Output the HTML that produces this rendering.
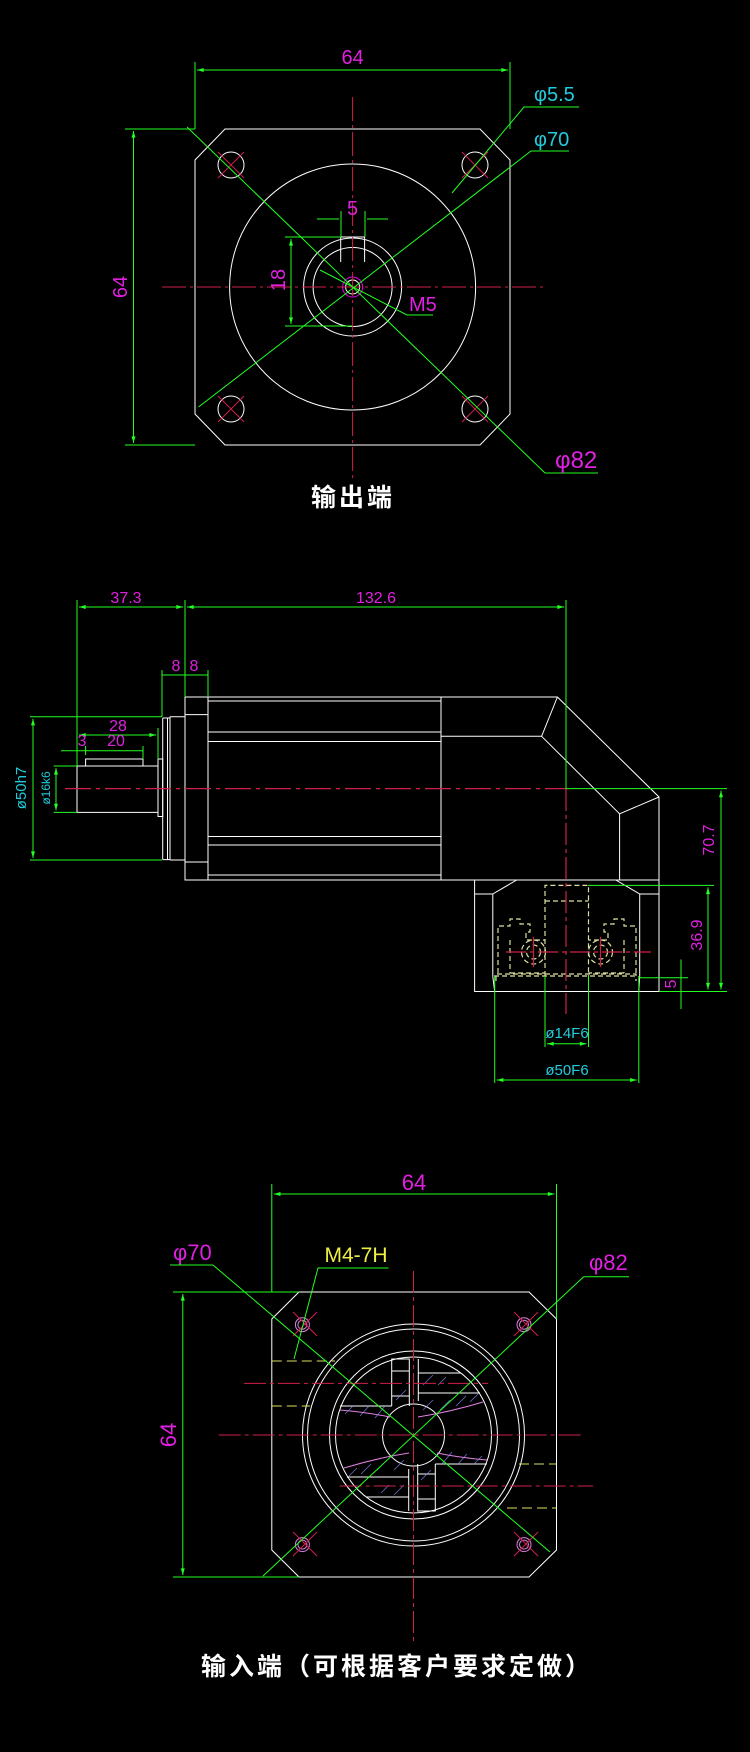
<!DOCTYPE html>
<html><head><meta charset="utf-8"><style>
html,body{margin:0;padding:0;background:#000;}
svg{display:block;}
text{font-family:"Liberation Sans Narrow","Liberation Sans",sans-serif;}
.cj{font-family:"Liberation Sans","Noto Sans CJK SC",sans-serif;font-weight:bold;fill:#fff;}
</style></head><body>
<svg width="750" height="1752" viewBox="0 0 750 1752" xmlns="http://www.w3.org/2000/svg">
<rect width="750" height="1752" fill="#000"/>
<defs>
<marker id="a" viewBox="0 0 10 6" refX="10" refY="3" markerWidth="8" markerHeight="4" orient="auto-start-reverse"><path d="M0,0L10,3L0,6z" fill="#2f2"/></marker>
</defs>

<!-- ===== VIEW 1 : 输出端 ===== -->
<g fill="none" stroke="#fff" stroke-width="1">
<path d="M225,129H480L510,160V414L480,445H225L195,414V160Z"/>
<circle cx="352.6" cy="287" r="123"/>
<circle cx="352.6" cy="287" r="49"/>
<circle cx="352.6" cy="287" r="39.5"/>
<path d="M340.7,262V237H364.6V262"/>
<circle cx="231" cy="165" r="13"/><circle cx="475" cy="165" r="13"/>
<circle cx="231" cy="409" r="13"/><circle cx="475" cy="409" r="13"/>
</g>
<circle cx="352.6" cy="287" r="10" fill="none" stroke="#e0e" stroke-width="1"/>
<circle cx="352.6" cy="287" r="7" fill="none" stroke="#fff" stroke-width="1"/>
<g stroke="#d0204a" stroke-width="1">
<path d="M218,152l26,26M244,152l-26,26M462,152l26,26M488,152l-26,26M218,396l26,26M244,396l-26,26M462,396l26,26M488,396l-26,26"/>
<path d="M162,287H544M352.6,97V480" stroke-dasharray="24,4,3,4"/>
</g>
<g stroke="#2f2" stroke-width="1" fill="none">
<path d="M195,62V129M510,62V129"/>
<path d="M197,70H508" marker-start="url(#a)" marker-end="url(#a)"/>
<path d="M125,129H195M125,445H195"/>
<path d="M133.5,131V443" marker-start="url(#a)" marker-end="url(#a)"/>
<path d="M187,127L545,473H598"/>
<path d="M198.5,407L531,151H569"/>
<path d="M452,193L524,107H579"/>
<path d="M341,211V237M365,211V237"/>
<path d="M317,219H339M367,219H388"/>
<path d="M285,237H341M285,326H352"/>
<path d="M291,239V324" marker-start="url(#a)" marker-end="url(#a)"/>
<path d="M320,270L407,315H433"/>
</g>
<g fill="#e020e0" font-size="20">
<text x="352.6" y="64" text-anchor="middle">64</text>
<text transform="translate(127,287) rotate(-90)" text-anchor="middle">64</text>
<text x="352.6" y="215" text-anchor="middle">5</text>
<text transform="translate(285,280) rotate(-90)" text-anchor="middle">18</text>
<text x="409" y="311">M5</text>
<text x="555" y="468" font-size="24">φ82</text>
</g>
<g fill="#2cd" font-size="20">
<text x="534" y="101">φ5.5</text>
<text x="534" y="146">φ70</text>
</g>
<text class="cj" x="353" y="506" font-size="25" text-anchor="middle" letter-spacing="3">输出端</text>

<!-- ===== VIEW 2 : side ===== -->
<g fill="none" stroke="#fff" stroke-width="1">
<path d="M185,697H557.4L659,797V880H185Z"/>
<path d="M208,697V880M441,697V880"/>
<path d="M208,701H441M208,732H441M208,741.5H441M208,836.5H441M208,845H441M208,875H441"/>
<path d="M185,714.6H208M185,862H208"/>
<path d="M441,736.3H541.6L557.4,697M541.6,736.3L619.6,813.8L659,797M619.6,813.8V880"/>
<path d="M170,716.7H185M170,860H185M170,716.7V860M162.7,718V859.6M167.5,718V859.6M162.7,718H170M162.7,859.6H170"/>
<path d="M158,759H162.7V816.5H158Z"/>
<path d="M77,766H158V812.4H77Z"/>
<path d="M85.6,766V759H143V766"/>
<path d="M474.6,880V991.5H659V880"/>
<path d="M516.7,880L492.8,894V976.7M615.8,880L639.7,894V976.7M474.6,894H492.8M639.7,894H659"/>
<path d="M492.8,976.7L494.7,991.5M639.7,976.7L638.8,991.5"/>
</g>
<g fill="none" stroke="#dde0a0" stroke-width="1.2" stroke-dasharray="5,3">
<path d="M545,976V885.4H588.5V976M545,901H588.5"/>
<path d="M494,976H638"/>
<path d="M496,981V974H636V981"/>
<path d="M498,973V926H510V919H520V924H530V932H526V940H545M510,973H545M510,940V973"/>
<path d="M636,973V926H624V919H614V924H604V932H608V940H588.5M624,973H588.5M624,940V973"/>
<circle cx="533.5" cy="952" r="7"/><circle cx="600.5" cy="952" r="7"/>
<circle cx="533.5" cy="952" r="12"/><circle cx="600.5" cy="952" r="12"/>
</g>
<g stroke="#d0204a" stroke-width="1.2" fill="none">
<path d="M65,788.6H566" stroke-dasharray="26,5,4,5"/>
<path d="M566,789V1014" stroke-dasharray="22,4,4,4"/>
<path d="M506,952H651" stroke-dasharray="20,4,4,4"/>
<path d="M533.5,937V967M600.5,937V967"/>
</g>
<g stroke="#2f2" stroke-width="1" fill="none">
<path d="M77,600V766M185,600V697M566,600V789"/>
<path d="M79,607H183" marker-start="url(#a)" marker-end="url(#a)"/>
<path d="M187,607H564" marker-start="url(#a)" marker-end="url(#a)"/>
<path d="M162,670V717M208,670V697"/>
<path d="M162,675H208"/>
<path d="M566,788.6H727M659,991.5H727M588,885.4H714M639.7,977.7H688"/>
<path d="M721,790.6V989.5" marker-start="url(#a)" marker-end="url(#a)"/>
<path d="M708,887.4V989.5" marker-start="url(#a)" marker-end="url(#a)"/>
<path d="M681,959.5V1009M681,975.7" />
<path d="M545,976V1047M588.5,976V1047M494.7,976V1083M638.8,976V1083"/>
<path d="M547,1043.8H586.5" marker-start="url(#a)" marker-end="url(#a)"/>
<path d="M496.7,1080H636.8" marker-start="url(#a)" marker-end="url(#a)"/>
<path d="M30,716.7H162M30,860H162"/>
<path d="M33,718.7V858" marker-start="url(#a)" marker-end="url(#a)"/>
<path d="M53.6,766H77M53.6,812.4H77"/>
<path d="M56,768V810.4" marker-start="url(#a)" marker-end="url(#a)"/>
<path d="M158,728V759"/>
<path d="M79,735H156" marker-start="url(#a)" marker-end="url(#a)"/>
<path d="M61,750.8H143M77,746V755M85.6,746V755M143,746V759"/>
</g>
<g fill="#e020e0" font-size="16">
<text x="126" y="603" text-anchor="middle">37.3</text>
<text x="376" y="603" text-anchor="middle">132.6</text>
<text x="176" y="671" text-anchor="middle">8</text>
<text x="194" y="671" text-anchor="middle">8</text>
<text x="118" y="731" text-anchor="middle">28</text>
<text x="82" y="746" text-anchor="middle">3</text>
<text x="116" y="746" text-anchor="middle">20</text>
<text transform="translate(714,840) rotate(-90)" text-anchor="middle">70.7</text>
<text transform="translate(702,935) rotate(-90)" text-anchor="middle">36.9</text>
<text transform="translate(676,984) rotate(-90)" text-anchor="middle">5</text>
</g>
<g fill="#2cd" font-size="15">
<text transform="translate(26,788) rotate(-90)" text-anchor="middle">ø50h7</text>
<text transform="translate(50,788) rotate(-90)" text-anchor="middle" font-size="12">ø16k6</text>
<text x="567" y="1038" text-anchor="middle">ø14F6</text>
<text x="567" y="1075" text-anchor="middle">ø50F6</text>
</g>

<!-- ===== VIEW 3 : 输入端 ===== -->
<g fill="none" stroke="#fff" stroke-width="1">
<path d="M299,1292H529L556.5,1319V1550L529,1577H299L271.8,1550V1319Z"/>
<circle cx="413.5" cy="1435" r="111"/>
<circle cx="413.5" cy="1435" r="106"/>
<circle cx="413.5" cy="1435" r="84"/>
<circle cx="413.5" cy="1435" r="78"/>
<circle cx="413.5" cy="1435" r="31"/>
<g id="blk">
<path d="M391.7,1406V1359H409.3V1406M391.7,1371H409.3M391.7,1396H409.3M391.7,1406H340"/>
<path d="M418.3,1401V1359M418.3,1373H461M418.3,1393H480"/>
</g>
<use href="#blk" transform="rotate(180 413.5 1435)"/>
</g>
<g fill="none" stroke="#e080e0" stroke-width="1">
<path d="M340,1410Q365,1412 390,1417M418,1417Q450,1412 483,1402"/>
<path d="M487,1460Q462,1458 437,1453M409,1453Q377,1458 344,1468"/>
<circle cx="302.4" cy="1324.7" r="7"/><circle cx="302.4" cy="1324.7" r="4.5"/>
<circle cx="524" cy="1324.7" r="7"/><circle cx="524" cy="1324.7" r="4.5"/>
<circle cx="302.4" cy="1544.6" r="7"/><circle cx="302.4" cy="1544.6" r="4.5"/>
<circle cx="524" cy="1544.6" r="7"/><circle cx="524" cy="1544.6" r="4.5"/>
</g>
<g stroke="#88f" stroke-width="0.8" opacity="0.8">
<path d="M345,1414l8,-8M360,1416l9,-10M375,1418l10,-12M396,1400l10,-10M423,1385l10,-10M438,1385l8,-8M423,1410l10,-10M440,1410l10,-10M456,1406l10,-10M470,1402l8,-8"/>
<path d="M482,1456l-8,8M467,1454l-9,10M452,1452l-10,12M431,1470l-10,10M404,1485l-10,10M389,1485l-8,8M404,1460l-10,10M387,1460l-10,10M371,1464l-10,10M357,1468l-8,8"/>
</g>
<g stroke="#d0204a" stroke-width="1" fill="none">
<path d="M293,1312l24,24M317,1312l-24,24M514,1312l24,24M538,1312l-24,24M293,1532l24,24M317,1532l-24,24M514,1532l24,24M538,1532l-24,24"/>
<path d="M218.7,1435H582M413.5,1271V1641M244,1383.4H488M339.7,1486H593" stroke-dasharray="22,4,4,4"/>
</g>
<g stroke="#dde060" stroke-width="1" stroke-dasharray="10,5" fill="none">
<path d="M271.8,1361H335M271.8,1406H310M519,1464H556.5M507,1508H556.5"/>
</g>
<g stroke="#2f2" stroke-width="1" fill="none">
<path d="M271.8,1184V1292M556.5,1184V1319"/>
<path d="M273.8,1194H554.5" marker-start="url(#a)" marker-end="url(#a)"/>
<path d="M173,1292H299M173,1577H299"/>
<path d="M182.8,1294V1575" marker-start="url(#a)" marker-end="url(#a)"/>
<path d="M170,1265H213L550,1552"/>
<path d="M263,1576L583.7,1276.7H629"/>
<path d="M388.5,1268H318L294,1359"/>
</g>
<g fill="#e020e0" font-size="22">
<text x="414" y="1190" text-anchor="middle">64</text>
<text transform="translate(176,1435) rotate(-90)" text-anchor="middle">64</text>
<text x="173" y="1260">φ70</text>
<text x="589" y="1270">φ82</text>
</g>
<text x="356" y="1262" fill="#ee4" font-size="21" text-anchor="middle">M4-7H</text>
<text class="cj" x="397" y="1675" font-size="25" text-anchor="middle" letter-spacing="3">输入端（可根据客户要求定做）</text>
</svg>
</body></html>
